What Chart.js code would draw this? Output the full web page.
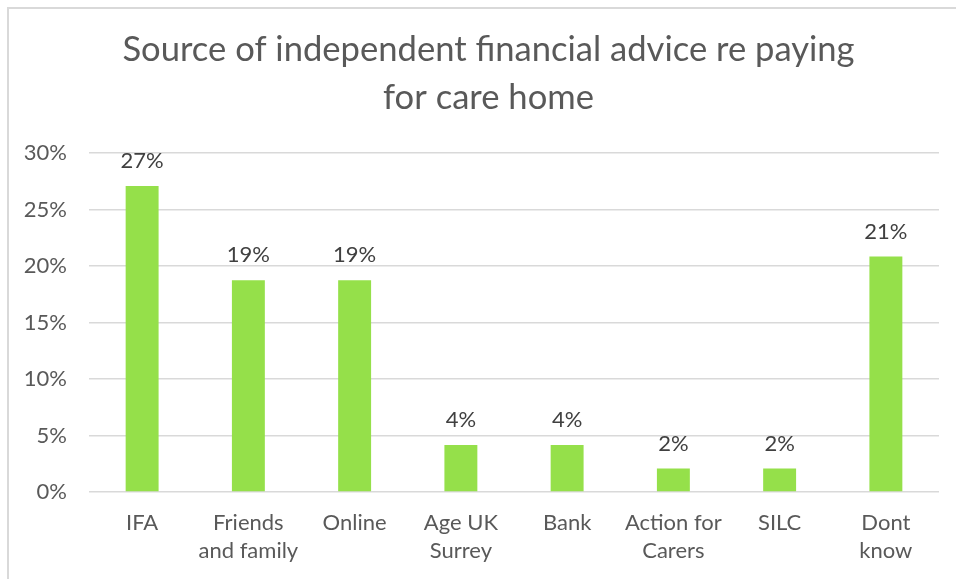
<!DOCTYPE html>
<html>
<head>
<meta charset="utf-8">
<script src="https://cdn.jsdelivr.net/npm/chart.js@4/dist/chart.umd.min.js"></script>
<style>
  html, body { margin: 0; padding: 0; background: #fff; overflow: hidden; }
  #wrap { position: relative; width: 956px; height: 579px; }
  #frame { position: absolute; left: 7px; top: 7px; width: 960px; height: 600px;
           border-left: 2px solid #d9d9d9; border-top: 2px solid #d9d9d9; }
  canvas { position: absolute; left: 0; top: 0; }
</style>
</head>
<body>
<div id="wrap">
  <div id="frame"></div>
  <canvas id="c" width="956" height="579"></canvas>
</div>
<script>
const titleLines = ["Source of independent financial advice re paying", "for care home"];
const categories = [["IFA"], ["Friends", "and family"], ["Online"], ["Age UK", "Surrey"], ["Bank"], ["Action for", "Carers"], ["SILC"], ["Dont", "know"]];
const percentValues = [27.08, 18.75, 18.75, 4.17, 4.17, 2.08, 2.08, 20.83];
const yTickValues = [0, 5, 10, 15, 20, 25, 30];

const FONT = "Lato, 'Open Sans', sans-serif";

const valueLabels = {
  id: 'valueLabels',
  afterDatasetsDraw(chart) {
    const ctx = chart.ctx;
    const meta = chart.getDatasetMeta(0);
    ctx.save();
    ctx.font = "22px " + FONT;
    ctx.fillStyle = '#404040';
    ctx.textAlign = 'center';
    ctx.textBaseline = 'middle';
    meta.data.forEach((bar, i) => {
      ctx.fillText(Math.round(percentValues[i]) + '%', bar.x, bar.y - 25);
    });
    ctx.restore();
  }
};

const chartTitle = {
  id: 'chartTitle',
  afterDraw(chart) {
    const ctx = chart.ctx;
    ctx.save();
    ctx.font = "34.6px " + FONT;
    ctx.fillStyle = '#595959';
    ctx.textAlign = 'center';
    ctx.textBaseline = 'middle';
    const cx = chart.width / 2 + 10.5;
    titleLines.forEach((line, i) => ctx.fillText(line, cx, 50 + i * 48));
    ctx.restore();
  }
};

new Chart(document.getElementById('c'), {
  type: 'bar',
  data: {
    labels: categories,
    datasets: [{
      data: percentValues,
      backgroundColor: '#95e04a',
      borderWidth: 0,
      barPercentage: 0.31,
      categoryPercentage: 1.0
    }]
  },
  options: {
    responsive: false,
    animation: false,
    devicePixelRatio: 1,
    layout: { padding: { left: 0, right: 17, top: 153, bottom: 0 } },
    plugins: {
      legend: { display: false },
      tooltip: { enabled: false },
      title: { display: false }
    },
    scales: {
      x: {
        grid: { display: false, drawTicks: false },
        border: { display: false },
        ticks: {
          color: '#595959',
          font: { family: FONT, size: 22, lineHeight: 1.28 },
          padding: 17,
          maxRotation: 0,
          autoSkip: false
        },
        afterFit(scale) { scale.height = 87; }
      },
      y: {
        min: 0,
        max: 30,
        afterBuildTicks(scale) { scale.ticks = yTickValues.map(v => ({ value: v })); },
        grid: { color: '#d9d9d9', lineWidth: 1.5, drawTicks: false },
        border: { display: false },
        ticks: {
          color: '#595959',
          font: { family: FONT, size: 22 },
          padding: 22,
          callback: v => v + '%'
        },
        afterFit(scale) { scale.width = 89; }
      }
    }
  },
  plugins: [valueLabels, chartTitle]
});
</script>
</body>
</html>
